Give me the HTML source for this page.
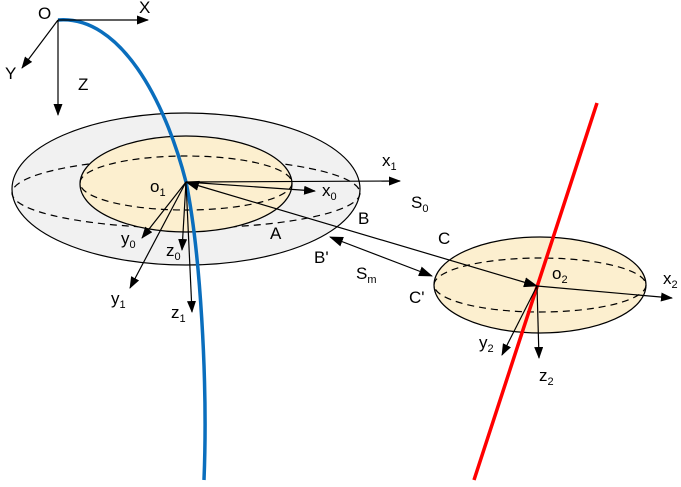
<!DOCTYPE html><html><head><style>body{margin:0;background:#fff}svg{display:block}text{font-family:"Liberation Sans",sans-serif;font-size:17px;fill:#000}.s{font-size:11px}</style></head><body>
<svg width="681" height="487" viewBox="0 0 681 487" xmlns="http://www.w3.org/2000/svg">
<defs><marker id="a" markerWidth="12" markerHeight="9" refX="11" refY="4.5" orient="auto" markerUnits="userSpaceOnUse"><path d="M0,0L12,4.5L0,9z" fill="#000"/></marker>
<marker id="b" markerWidth="14" markerHeight="10" refX="13" refY="5" orient="auto-start-reverse" markerUnits="userSpaceOnUse"><path d="M0,0L14,5L0,10z" fill="#000"/></marker></defs>
<g stroke="#000" stroke-width="1.2">
<ellipse cx="186" cy="189" rx="174" ry="76" fill="#f1f1f1"/>
<ellipse cx="186" cy="193" rx="174" ry="35" fill="none" stroke-dasharray="7,5"/>
<ellipse cx="186" cy="184" rx="106" ry="48" fill="#fcefcf"/>
<ellipse cx="186" cy="183" rx="106" ry="27" fill="none" stroke-dasharray="7,5"/>
<ellipse cx="540" cy="285" rx="106" ry="48" fill="#fcefcf"/>
<ellipse cx="540" cy="285" rx="106" ry="27" fill="none" stroke-dasharray="7,5"/>
</g>
<path d="M58,20 C120,15 165,100 186,182 C200,250 208,380 204,480" fill="none" stroke="#0a6ebd" stroke-width="3.5"/>
<line x1="597" y1="103" x2="474" y2="480" stroke="#f00" stroke-width="3.5"/>
<g stroke="#000" stroke-width="1.2" marker-end="url(#a)">
<line x1="58" y1="20" x2="148" y2="20"/><line x1="58" y1="20" x2="22" y2="68"/><line x1="58" y1="20" x2="58" y2="115"/>
<line x1="186" y1="182" x2="400" y2="181"/><line x1="186" y1="182" x2="315" y2="191"/>
<line x1="186" y1="182" x2="142" y2="238"/><line x1="186" y1="182" x2="130" y2="288"/>
<line x1="186" y1="182" x2="182" y2="250"/><line x1="186" y1="182" x2="192" y2="312"/>
<line x1="537" y1="286" x2="672" y2="298"/><line x1="537" y1="286" x2="502" y2="355"/><line x1="537" y1="286" x2="539" y2="358"/>
</g>
<g stroke="#000" stroke-width="1.2" marker-start="url(#b)" marker-end="url(#b)">
<line x1="186" y1="182" x2="537" y2="286"/>
<line x1="330" y1="237" x2="432" y2="276"/>
</g>
<text x="38" y="19">O</text><text x="139" y="13">X</text><text x="5" y="79">Y</text><text x="78" y="90">Z</text>
<text x="382" y="166">x<tspan class="s" dy="4">1</tspan></text>
<text x="322" y="196">x<tspan class="s" dy="4">0</tspan></text>
<text x="411" y="208">S<tspan class="s" dy="4">0</tspan></text>
<text x="358" y="224">B</text><text x="270" y="239">A</text>
<text x="314" y="263">B'</text><text x="438" y="244">C</text>
<text x="356" y="279">S<tspan class="s" dy="4">m</tspan></text>
<text x="409" y="303">C'</text>
<text x="150" y="192">o<tspan class="s" dy="4">1</tspan></text>
<text x="121" y="244">y<tspan class="s" dy="4">0</tspan></text>
<text x="166" y="256">z<tspan class="s" dy="4">0</tspan></text>
<text x="111" y="304">y<tspan class="s" dy="4">1</tspan></text>
<text x="171" y="318">z<tspan class="s" dy="4">1</tspan></text>
<text x="552" y="279">o<tspan class="s" dy="4">2</tspan></text>
<text x="663" y="284">x<tspan class="s" dy="4">2</tspan></text>
<text x="479" y="348">y<tspan class="s" dy="4">2</tspan></text>
<text x="539" y="381">z<tspan class="s" dy="4">2</tspan></text>
</svg></body></html>
